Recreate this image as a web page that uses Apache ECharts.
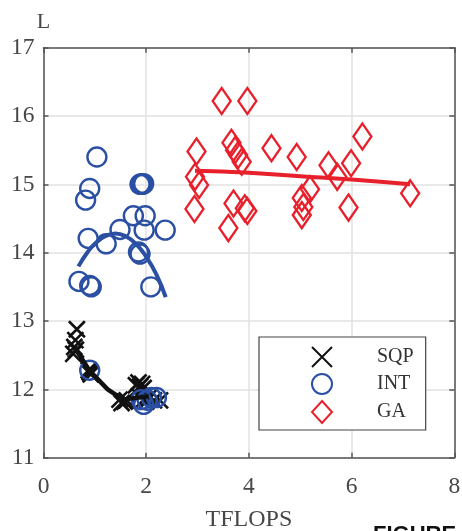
<!DOCTYPE html>
<html>
<head>
<meta charset="utf-8">
<script src="https://cdn.jsdelivr.net/npm/echarts@6/dist/echarts.min.js"></script>
<style>
  html, body { margin: 0; padding: 0; background: #fff; }
  #chart { width: 462px; height: 531px; }
</style>
</head>
<body>
<div id="chart"></div>
<script>
// Axis ticks
const xTicks = [0, 2, 4, 6, 8];
const yTicks = [11, 12, 13, 14, 15, 16, 17];

// SQP runs: [TFLOPS, L]
const sqpPoints = [
  [0.65, 12.88], [0.62, 12.72], [0.60, 12.62], [0.58, 12.52], [0.63, 12.58],
  [0.88, 12.28], [0.90, 12.25], [0.92, 12.22],
  [1.48, 11.85], [1.52, 11.80], [1.58, 11.82], [1.62, 11.84],
  [1.80, 12.06], [1.85, 12.10], [1.88, 12.04], [1.92, 12.08], [1.95, 12.02],
  [1.86, 11.90], [1.95, 11.85], [2.05, 11.88], [2.15, 11.84], [2.27, 11.84], [2.00, 11.82]
];
// SQP trend
const sqpTrend = [[0.60, 12.62], [0.90, 12.27], [1.25, 12.00], [1.55, 11.85], [1.85, 11.88], [2.05, 11.90]];

// INT runs
const intPoints = [
  [1.04, 15.40], [0.90, 14.94], [0.82, 14.77],
  [1.88, 15.00], [1.90, 15.01], [1.93, 15.00], [1.95, 15.01],
  [1.75, 14.54], [1.98, 14.54], [1.49, 14.34], [1.96, 14.33], [2.37, 14.33],
  [0.87, 14.21], [1.22, 14.13], [1.85, 14.01], [1.88, 13.98],
  [0.69, 13.58], [0.90, 13.52], [0.93, 13.50], [2.09, 13.50],
  [0.90, 12.28], [1.90, 11.85], [1.95, 11.78], [2.02, 11.84], [2.10, 11.88], [2.20, 11.88]
];
// INT trend
const intTrend = [
  [0.68, 13.80], [0.85, 14.00], [1.00, 14.13], [1.20, 14.24], [1.40, 14.28],
  [1.60, 14.24], [1.80, 14.13], [2.00, 13.94], [2.20, 13.68], [2.38, 13.35]
];

// GA runs
const gaPoints = [
  [3.47, 16.22], [3.97, 16.22],
  [2.98, 15.48], [3.66, 15.61], [3.73, 15.50], [3.79, 15.43], [3.86, 15.33],
  [2.95, 15.11], [3.03, 14.99], [4.44, 15.53], [4.93, 15.40],
  [2.94, 14.64], [3.70, 14.72], [3.92, 14.65], [3.97, 14.61], [3.60, 14.36],
  [5.03, 14.80], [5.06, 14.67], [5.03, 14.55], [5.19, 14.93],
  [6.21, 15.70], [5.55, 15.28], [5.72, 15.11], [5.99, 15.31], [5.94, 14.66], [7.14, 14.87]
];
// GA trend
const gaTrend = [[2.95, 15.20], [4.00, 15.17], [5.00, 15.12], [6.00, 15.07], [7.14, 15.00]];

const BLUE = '#2a4fa3';
const RED = '#e8202b';
const BLACK = '#111111';
const SERIF = '"Liberation Serif", "DejaVu Serif", serif';
const LABEL = '#474747';
const AXIS = '#555555';

const chart = echarts.init(document.getElementById('chart'), null, { renderer: 'canvas' });

// fixed plot box; labels and names may sit outside it
const gridBox = { left: 43.5, right: 7.7, top: 47.7, bottom: 73.3, containLabel: false, outerBoundsMode: 'none' };

const baseX = {
  type: 'value', min: xTicks[0], max: xTicks[xTicks.length - 1], interval: 2,
  axisLine: { show: true, onZero: false, lineStyle: { color: AXIS, width: 1.5 } },
  axisTick: { show: true, inside: true, length: 5, lineStyle: { color: AXIS, width: 1.5 } }
};
const baseY = {
  type: 'value', min: yTicks[0], max: yTicks[yTicks.length - 1], interval: 1,
  axisLine: { show: true, onZero: false, lineStyle: { color: AXIS, width: 1.5 } },
  axisTick: { show: true, inside: true, length: 5, lineStyle: { color: AXIS, width: 1.5 } }
};

chart.setOption({
  backgroundColor: '#ffffff',
  animation: false,
  grid: gridBox,
  xAxis: [
    Object.assign({}, baseX, {
      position: 'bottom',
      name: 'TFLOPS', nameLocation: 'middle', nameGap: 50,
      nameTextStyle: { fontFamily: SERIF, fontSize: 24, color: LABEL },
      axisLabel: { fontFamily: SERIF, fontSize: 23.5, color: LABEL, margin: 17 },
      splitLine: { show: true, lineStyle: { color: '#e2e2e2', width: 1.5 } }
    }),
    Object.assign({}, baseX, {
      position: 'top',
      axisLabel: { show: false },
      splitLine: { show: false }
    })
  ],
  yAxis: [
    Object.assign({}, baseY, {
      position: 'left',
      name: 'L', nameLocation: 'end', nameGap: 14,
      nameTextStyle: { fontFamily: SERIF, fontSize: 22, color: LABEL, align: 'center' },
      axisLabel: { fontFamily: SERIF, fontSize: 23.5, color: LABEL, margin: 9 },
      splitLine: { show: true, lineStyle: { color: '#e2e2e2', width: 1.5 } }
    }),
    Object.assign({}, baseY, {
      position: 'right',
      axisLabel: { show: false },
      splitLine: { show: false }
    })
  ],
  legend: {
    orient: 'vertical',
    left: 259, top: 337,
    padding: [9, 12, 6, 52],
    itemWidth: 20, itemHeight: 22, itemGap: 5,
    backgroundColor: '#ffffff',
    borderColor: '#444444', borderWidth: 1.2,
    textStyle: { fontFamily: SERIF, fontSize: 20, color: '#333333', padding: [0, 0, 0, 40] },
    data: ['SQP', 'INT', 'GA']
  },
  series: [
    {
      name: 'SQP', type: 'scatter', data: sqpPoints,
      symbol: 'path://M0,0L10,10M10,0L0,10', symbolSize: 16,
      itemStyle: { color: 'transparent', borderColor: BLACK, borderWidth: 2.6, opacity: 1 }
    },
    {
      name: 'INT', type: 'scatter', data: intPoints,
      symbol: 'circle', symbolSize: 19,
      itemStyle: { color: 'transparent', borderColor: BLUE, borderWidth: 2.4, opacity: 1 }
    },
    {
      name: 'GA', type: 'scatter', data: gaPoints,
      symbol: 'diamond', symbolSize: [18, 26],
      itemStyle: { color: 'transparent', borderColor: RED, borderWidth: 2.4, opacity: 1 }
    },
    {
      name: 'SQP trend', type: 'line', data: sqpTrend, showSymbol: false, smooth: false,
      lineStyle: { color: BLACK, width: 4.5 }, z: 3
    },
    {
      name: 'INT trend', type: 'line', data: intTrend, showSymbol: false, smooth: true,
      lineStyle: { color: BLUE, width: 4 }, z: 3
    },
    {
      name: 'GA trend', type: 'line', data: gaTrend, showSymbol: false, smooth: true,
      lineStyle: { color: RED, width: 4 }, z: 3
    }
  ],
  graphic: [
    {
      type: 'text', left: 373, top: 524, silent: true,
      style: { text: 'FIGURE', fontFamily: '"Liberation Sans", Arial, sans-serif', fontWeight: 'bold', fontSize: 22, fill: '#111111' }
    }
  ]
});
</script>
</body>
</html>
